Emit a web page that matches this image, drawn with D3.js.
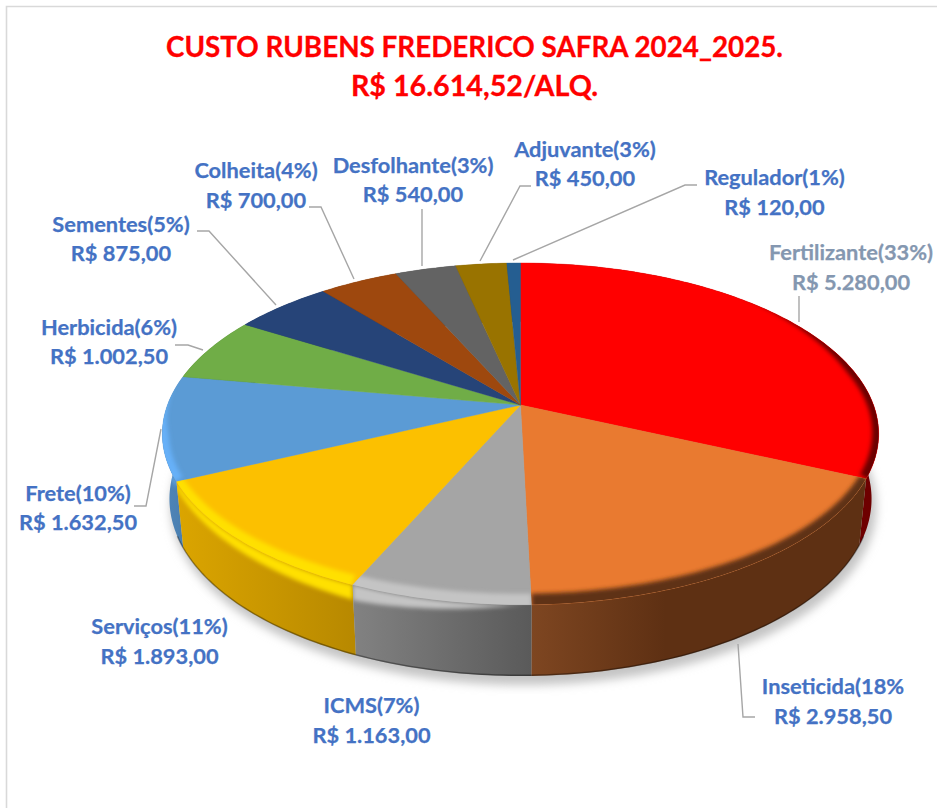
<!DOCTYPE html>
<html>
<head>
<meta charset="utf-8">
<script src="https://d3js.org/d3.v7.min.js"></script>
<style>
body { margin: 0; background: #fff; }
svg { display: block; }
text { font-family: Lato, sans-serif; font-weight: 700; text-anchor: middle; }
</style>
</head>
<body>
<div id="container"></div>
<script>
// data
var categories = ["Fertilizante(33%)", "Inseticida(18%", "ICMS(7%)", "Serviços(11%)", "Frete(10%)", "Herbicida(6%)",
	"Sementes(5%)", "Colheita(4%)", "Desfolhante(3%)", "Adjuvante(3%)", "Regulador(1%)"];
var values = [5280, 2958.5, 1163, 1893, 1632.5, 1002.5, 875, 700, 540, 450, 120];
var valueLabels = ["R$ 5.280,00", "R$ 2.958,50", "R$ 1.163,00", "R$ 1.893,00", "R$ 1.632,50", "R$ 1.002,50",
	"R$ 875,00", "R$ 700,00", "R$ 540,00", "R$ 450,00", "R$ 120,00"];
var titleLines = ["CUSTO RUBENS FREDERICO SAFRA 2024_2025.", "R$ 16.614,52/ALQ."];

// colours, same order as the categories
var topColors = ["#ff0000", "#e97a30", "#a5a5a5", "#fcc000", "#5b9bd5", "#70ad47", "#264478", "#9e480e", "#636363", "#997300", "#255e91"];
var sideFrom = ["#6e0000", "#7e4621", "#828282", "#dba500", "#4f86ba", "#4a7a2e", "#1a3054", "#6e320a", "#454545", "#6b5000", "#1a4266"];
var sideTo = ["#6e0000", "#5e3013", "#5a5a5a", "#b88900", "#4a7fb0", "#4a7a2e", "#1a3054", "#6e320a", "#454545", "#6b5000", "#1a4266"];
var rimColors = ["#6a0000", "#5e3013", "#c4c4c4", "#ffe000", "#66b0f8", "#70ad47", "#264478", "#9e480e", "#636363", "#997300", "#255e91"];
var labelColors = ["#8497b0", "#4472c4", "#4472c4", "#4472c4", "#4472c4", "#4472c4", "#4472c4", "#4472c4", "#4472c4", "#4472c4", "#4472c4"];

// label layout: centre x, first baseline, second baseline
var labelPos = [[851, 260, 290], [833, 694, 724], [371.5, 713, 743], [159.5, 634, 664], [78, 501, 530], [109, 335, 364],
	[121, 232, 261], [256, 178, 208], [413, 173, 202], [585, 157, 186], [774.5, 185, 215]];
// leader lines
var leaders = [
	[[799, 296], [799, 322]],
	[[755, 717], [743, 717], [738, 644]],
	[],
	[],
	[[134, 506], [146, 506], [161, 429]],
	[[175, 345], [188, 345], [203, 350]],
	[[197, 231], [209, 231], [276, 305]],
	[[309, 207], [321, 207], [354, 279]],
	[[422, 209], [422, 266]],
	[[531, 186], [520, 186], [480, 261]],
	[[697, 185], [685, 185], [513, 260]]
];

var width = 937;
var height = 808;

// disc projection, the pie is tilted so the far half is squeezed
var centerX = 520.5;
var persp = 0.169;
var topPlane = { a: 353, b: 166, y: 405 };
var bottomPlane = { a: 346, b: 172, y: 469 };

function project(plane, t, ru, rv) {
	var v = -rv * Math.cos(t);
	var w = 1 - persp * (-Math.cos(t));
	return [centerX + plane.a * ru * Math.sin(t) / w, plane.y + plane.b * v / w];
}

function angles(t0, t1) {
	var n = Math.max(2, Math.ceil((t1 - t0) / (Math.PI / 180)));
	return d3.range(n + 1).map(function(i) { return t0 + (t1 - t0) * i / n; });
}

var line = d3.line();
var pie = d3.pie().sort(null).value(function(d) { return d; });
var slices = pie(values);

var svg = d3.select("#container")
	.append("svg")
	.attr("width", width)
	.attr("height", height);

var defs = svg.append("defs");
defs.append("filter").attr("id", "shadow").attr("x", "-10%").attr("y", "-10%").attr("width", "120%").attr("height", "120%")
	.append("feGaussianBlur").attr("stdDeviation", 5);
defs.append("filter").attr("id", "soft").attr("x", "-20%").attr("y", "-20%").attr("width", "140%").attr("height", "140%")
	.append("feGaussianBlur").attr("stdDeviation", 2.2);

// chart frame, only top and left are in the crop
svg.append("path")
	.attr("d", line([[6.5, height], [6.5, 6.5], [width, 6.5]]))
	.attr("fill", "none")
	.attr("stroke", "#d9d9d9")
	.attr("stroke-width", 1.6);

// title
svg.selectAll(".title")
	.data(titleLines)
	.enter()
	.append("text")
	.attr("class", "title")
	.attr("x", 474.5)
	.attr("y", function(d, i) { return i == 0 ? 57 : 96; })
	.attr("fill", "#ff0000")
	.attr("stroke", "#ff0000")
	.attr("stroke-width", 0.3)
	.attr("font-size", function(d, i) { return i == 0 ? 27.8 : 28.7; })
	.text(function(d) { return d; });

// shadow below the pie
var full = angles(0, 2 * Math.PI);
svg.append("path")
	.attr("d", line(full.map(function(t) { return project(bottomPlane, t, 1.005, 1.01); })) + "Z")
	.attr("transform", "translate(3,7)")
	.attr("fill", "#c4c4c4")
	.attr("filter", "url(#shadow)");

// side walls, back ones first
var sideOrder = slices.slice().sort(function(p, q) {
	return -Math.cos((p.startAngle + p.endAngle) / 2) - -Math.cos((q.startAngle + q.endAngle) / 2);
});

slices.forEach(function(d, i) {
	var ts = angles(d.startAngle, d.endAngle);
	var xs = ts.map(function(t) { return project(topPlane, t, 1, 1)[0]; });
	var grad = defs.append("linearGradient")
		.attr("id", "side" + i)
		.attr("gradientUnits", "userSpaceOnUse")
		.attr("x1", d3.min(xs))
		.attr("x2", i == 1 ? d3.min(xs) + (d3.max(xs) - d3.min(xs)) * 0.4 : d3.max(xs))
		.attr("y1", 0)
		.attr("y2", 0);
	grad.append("stop").attr("offset", 0).attr("stop-color", sideFrom[i]);
	grad.append("stop").attr("offset", 1).attr("stop-color", sideTo[i]);
});

function sidePath(d) {
	var ts = angles(d.startAngle, d.endAngle);
	var upper = ts.map(function(t) { return project(topPlane, t, 1, 1); });
	var lower = ts.slice().reverse().map(function(t) { return project(bottomPlane, t, 1, 1); });
	return line(upper.concat(lower)) + "Z";
}

svg.selectAll(".side")
	.data(sideOrder)
	.enter()
	.append("path")
	.attr("class", "side")
	.attr("d", sidePath)
	.attr("fill", function(d) { return "url(#side" + d.index + ")"; });

// the bevel rolls over onto the wall on the lit left front
function rollDrop(t) {
	var a = t - Math.PI;
	return 15 * Math.max(0, Math.min(1, a / 0.4)) * Math.max(0, (1.75 - a) / 1.35);
}

slices.forEach(function(d, i) {
	if (i < 2 || i > 4) return;
	defs.append("clipPath").attr("id", "wall" + i).append("path").attr("d", sidePath(d));
	var ts = angles(d.startAngle, d.endAngle);
	var upper = ts.map(function(t) { return project(topPlane, t, 1, 1); });
	var lower = ts.slice().reverse().map(function(t) {
		var p = project(topPlane, t, 1, 1);
		return [p[0], p[1] + rollDrop(t)];
	});
	svg.append("g")
		.attr("clip-path", "url(#wall" + i + ")")
		.append("path")
		.attr("d", line(upper.concat(lower)) + "Z")
		.attr("fill", rimColors[i])
		.attr("filter", "url(#soft)");
});

// dark line along the foot of the wall
svg.append("path")
	.attr("d", line(angles(Math.PI * 0.62, Math.PI * 1.38).map(function(t) { return project(bottomPlane, t, 1, 0.997); })))
	.attr("fill", "none")
	.attr("stroke", "#000")
	.attr("stroke-opacity", 0.35)
	.attr("stroke-width", 1.5);

// top faces
function facePath(d) {
	var pts = angles(d.startAngle, d.endAngle).map(function(t) { return project(topPlane, t, 1, 1); });
	pts.unshift([centerX, topPlane.y]);
	return line(pts) + "Z";
}

svg.selectAll(".face")
	.data(slices)
	.enter()
	.append("path")
	.attr("class", "face")
	.attr("d", facePath)
	.attr("fill", function(d, i) { return topColors[i]; })
	.attr("stroke", function(d, i) { return topColors[i]; })
	.attr("stroke-width", 0.4);

// bevel on the rim, clipped to each face, it tapers out at both ends
var rimStart = Math.PI * 0.24;
var rimEnd = Math.PI * 1.55;

function rimTaper(t) {
	return Math.min(1, (t - rimStart) / 0.6, (rimEnd - t) / 0.35);
}

slices.forEach(function(d, i) {
	var t0 = Math.max(d.startAngle, rimStart);
	var t1 = Math.min(d.endAngle, rimEnd);
	if (t1 <= t0) return;
	defs.append("clipPath").attr("id", "clip" + i).append("path").attr("d", facePath(d));
	var ts = angles(t0, t1);
	var outer = ts.map(function(t) { return project(topPlane, t, 1.012, 1.02); });
	var inner = ts.slice().reverse().map(function(t) {
		var f = rimTaper(t);
		return project(topPlane, t, 1.012 - 0.03 * f, 1.02 - 0.075 * f);
	});
	svg.append("g")
		.attr("clip-path", "url(#clip" + i + ")")
		.append("path")
		.attr("d", line(outer.concat(inner)) + "Z")
		.attr("fill", rimColors[i])
		.attr("filter", "url(#soft)");
});

// leader lines
svg.selectAll(".leader")
	.data(leaders)
	.enter()
	.append("path")
	.attr("class", "leader")
	.attr("d", function(d) { return d.length ? line(d) : null; })
	.attr("fill", "none")
	.attr("stroke", "#a6a6a6")
	.attr("stroke-width", 1.4);

// labels
var labels = svg.selectAll(".label")
	.data(categories)
	.enter()
	.append("g")
	.attr("class", "label")
	.attr("fill", function(d, i) { return labelColors[i]; })
	.attr("stroke", function(d, i) { return labelColors[i]; })
	.attr("stroke-width", 0.25)
	.attr("font-size", 21.8);

labels.append("text")
	.attr("x", function(d, i) { return labelPos[i][0]; })
	.attr("y", function(d, i) { return labelPos[i][1]; })
	.text(function(d) { return d; });

labels.append("text")
	.attr("x", function(d, i) { return labelPos[i][0]; })
	.attr("y", function(d, i) { return labelPos[i][2]; })
	.text(function(d, i) { return valueLabels[i]; });
</script>
</body>
</html>
